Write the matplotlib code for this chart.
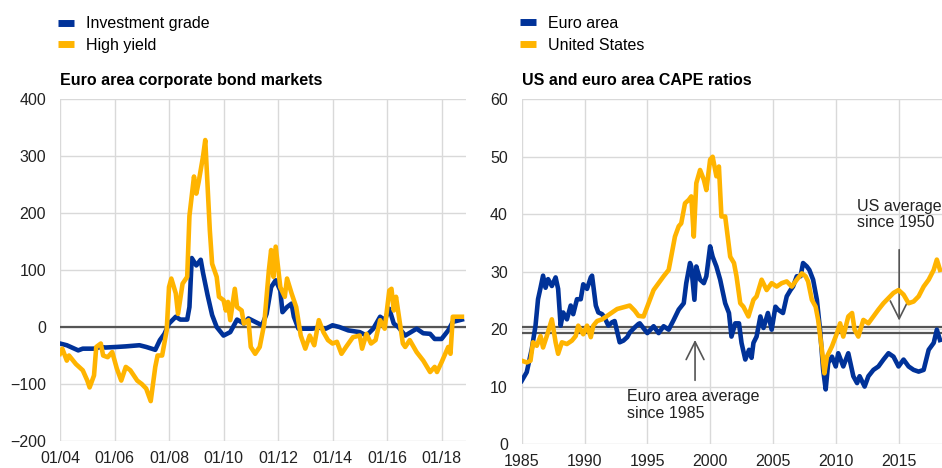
import numpy as np
import pandas as pd
import matplotlib
matplotlib.use("Agg")
import matplotlib.pyplot as plt
import matplotlib.dates as mdates

plt.rcParams['font.family'] = ['Liberation Sans', 'DejaVu Sans']
plt.rcParams['font.size'] = 11.5

# ---- left panel: euro area corporate bond markets ----
ig_dates = ['2004-01', '2004-04', '2004-09', '2004-11', '2005-04', '2005-07', '2005-09', '2006-02',
            '2006-06', '2006-12', '2007-03', '2007-07', '2007-09', '2007-11', '2008-01', '2008-04',
            '2008-06', '2008-09', '2008-10', '2008-11', '2009-01', '2009-03', '2009-04', '2009-06',
            '2009-08', '2009-10', '2010-01', '2010-04', '2010-07', '2010-10', '2010-12', '2011-03',
            '2011-06', '2011-08', '2011-10', '2011-12', '2012-02', '2012-03', '2012-05', '2012-07',
            '2012-08', '2012-10', '2013-01', '2013-04', '2013-07', '2013-10', '2014-01', '2014-04',
            '2014-08', '2015-01', '2015-04', '2015-07', '2015-10', '2015-12', '2016-02', '2016-04',
            '2016-06', '2016-09', '2017-02', '2017-05', '2017-08', '2017-10', '2018-01', '2018-04',
            '2018-06', '2018-10']
ig_values = [-29, -32, -41, -38, -38, -35, -36, -35,
             -34, -32, -35, -40, -23, -12, 6, 18,
             13, 13, 35, 121, 108, 118, 95, 56,
             21, 0, -15, -9, 13, 6, 15, 9,
             3, 23, 70, 82, 64, 26, 35, 41,
             18, -3, -3, -3, -1, -3, 3, 0,
             -6, -9, -15, -3, 18, 12, 32, 6,
             0, -15, -3, -11, -12, -21, -21, -6,
             9, 13]

hy_dates = ['2004-01', '2004-02', '2004-04', '2004-05', '2004-08', '2004-11', '2005-01', '2005-02',
            '2005-04', '2005-05', '2005-07', '2005-08', '2005-10', '2005-12', '2006-02', '2006-04',
            '2006-06', '2006-08', '2006-11', '2007-01', '2007-03', '2007-05', '2007-07', '2007-08',
            '2007-10', '2007-12', '2008-01', '2008-02', '2008-04', '2008-05', '2008-07', '2008-09',
            '2008-10', '2008-12', '2009-01', '2009-02', '2009-04', '2009-05', '2009-07', '2009-08',
            '2009-10', '2009-11', '2010-01', '2010-02', '2010-03', '2010-04', '2010-06', '2010-07',
            '2010-09', '2010-10', '2010-12', '2011-01', '2011-03', '2011-05', '2011-07', '2011-09',
            '2011-10', '2011-11', '2011-12', '2012-02', '2012-04', '2012-05', '2012-07', '2012-09',
            '2012-11', '2013-01', '2013-03', '2013-05', '2013-07', '2013-09', '2013-11', '2014-01',
            '2014-03', '2014-05', '2014-07', '2014-10', '2015-01', '2015-02', '2015-04', '2015-06',
            '2015-08', '2015-10', '2015-12', '2016-02', '2016-03', '2016-04', '2016-05', '2016-08',
            '2016-09', '2016-11', '2017-02', '2017-05', '2017-08', '2017-10', '2017-11', '2018-01',
            '2018-04', '2018-05', '2018-06', '2018-09', '2018-10']
hy_values = [-47, -38, -59, -50, -65, -76, -94, -106,
             -85, -35, -29, -50, -53, -44, -73, -94,
             -70, -76, -94, -100, -108, -130, -70, -50,
             -50, -6, 70, 85, 59, 23, 76, 88,
             195, 264, 234, 254, 299, 328, 170, 111,
             88, 53, 47, 29, 44, 12, 67, 35,
             29, 6, 12, -35, -47, -35, 6, 100,
             135, 88, 141, 70, 53, 85, 59, 35,
             -15, -38, -15, -32, 12, -9, -23, -29,
             -26, -47, -35, -18, -15, -38, -12, -29,
             -23, 12, -3, 64, 67, 29, 53, -29,
             -35, -23, -44, -59, -79, -70, -79, -62,
             -35, -47, 18, 18, 18]

# ---- right panel: CAPE ratios ----
ea_years = [1985.0, 1985.4, 1985.8, 1986.1, 1986.3, 1986.5, 1986.7, 1986.9, 1987.1, 1987.4,
            1987.7, 1987.9, 1988.1, 1988.3, 1988.6, 1988.9, 1989.1, 1989.4, 1989.7, 1989.9,
            1990.2, 1990.5, 1990.6, 1990.9, 1991.1, 1991.4, 1991.6, 1991.9, 1992.2, 1992.4,
            1992.8, 1993.1, 1993.4, 1993.6, 1994.0, 1994.3, 1994.4, 1995.0, 1995.5, 1995.9,
            1996.3, 1996.7, 1997.1, 1997.5, 1997.9, 1998.1, 1998.4, 1998.5, 1998.75, 1998.9,
            1999.2, 1999.5, 1999.7, 2000.0, 2000.2, 2000.5, 2000.8, 2001.2, 2001.5, 2001.7,
            2002.0, 2002.3, 2002.5, 2002.8, 2003.1, 2003.3, 2003.45, 2003.7, 2004.0, 2004.25,
            2004.6, 2004.9, 2005.2, 2005.4, 2005.8, 2006.1, 2006.4, 2006.6, 2006.9, 2007.2,
            2007.4, 2007.7, 2007.9, 2008.2, 2008.5, 2008.75, 2009.0, 2009.2, 2009.4, 2009.7,
            2010.0, 2010.2, 2010.6, 2011.0, 2011.4, 2011.7, 2011.9, 2012.3, 2012.6, 2013.0,
            2013.4, 2013.8, 2014.2, 2014.6, 2015.0, 2015.4, 2015.8, 2016.2, 2016.6, 2017.0,
            2017.4, 2017.8, 2018.05, 2018.3]
ea_values = [11.0, 12.5, 16.5, 20.6, 25.2, 27.2, 29.3, 27.2, 28.7, 27.5,
             29.0, 27.0, 20.6, 22.9, 21.7, 24.1, 22.6, 25.2, 25.2, 27.8,
             27.0, 29.0, 29.3, 24.1, 22.9, 22.6, 22.0, 20.6, 21.2, 21.4,
             17.7, 18.0, 18.6, 19.4, 20.3, 20.9, 21.0, 19.3, 20.5, 19.3,
             20.5, 19.9, 21.6, 23.4, 24.5, 28.0, 31.5, 30.9, 25.1, 30.9,
             28.6, 28.0, 29.2, 34.4, 32.6, 30.9, 28.6, 24.5, 22.8, 18.7,
             21.0, 21.0, 17.6, 14.7, 16.4, 15.0, 17.6, 18.7, 22.2, 20.2,
             22.8, 19.9, 23.9, 23.4, 22.8, 25.7, 26.8, 27.4, 29.2, 29.2,
             31.5, 30.9, 30.3, 28.6, 25.1, 19.9, 12.9, 9.5, 14.1, 15.2,
             13.5, 15.8, 13.5, 15.8, 11.8, 10.6, 11.8, 10.0, 11.8, 12.9,
             13.5, 14.7, 15.8, 15.2, 13.5, 14.7, 13.5, 12.9, 12.6, 12.9,
             16.4, 17.6, 19.9, 18.1]

us_years = [1985.0, 1985.4, 1985.7, 1985.9, 1986.2, 1986.5, 1986.7, 1987.0, 1987.4, 1987.7,
            1987.9, 1988.2, 1988.6, 1989.0, 1989.3, 1989.5, 1989.9, 1990.2, 1990.5, 1990.7,
            1991.0, 1991.4, 1991.8, 1992.2, 1992.6, 1993.1, 1993.6, 1994.0, 1994.3, 1994.7,
            1995.1, 1995.5, 1995.9, 1996.3, 1996.7, 1996.9, 1997.2, 1997.5, 1997.7, 1998.0,
            1998.3, 1998.5, 1998.7, 1998.9, 1999.2, 1999.5, 1999.7, 2000.0, 2000.2, 2000.5,
            2000.7, 2000.9, 2001.2, 2001.4, 2001.6, 2001.9, 2002.1, 2002.4, 2002.65, 2003.05,
            2003.45, 2003.7, 2004.1, 2004.5, 2004.9, 2005.3, 2005.7, 2006.1, 2006.5, 2006.9,
            2007.3, 2007.6, 2007.8, 2008.1, 2008.4, 2008.6, 2008.9, 2009.1, 2009.3, 2009.7,
            2010.1, 2010.35, 2010.6, 2011.0, 2011.3, 2011.5, 2011.8, 2012.2, 2012.6, 2013.0,
            2013.4, 2013.8, 2014.2, 2014.6, 2015.0, 2015.4, 2015.8, 2016.2, 2016.6, 2017.0,
            2017.4, 2017.8, 2018.05, 2018.3]
us_values = [14.5, 14.2, 14.5, 17.7, 17.1, 18.8, 16.8, 18.8, 21.7, 17.7,
             15.7, 17.7, 17.4, 18.0, 18.8, 20.6, 19.1, 20.6, 18.6, 20.6,
             21.4, 21.7, 22.3, 22.9, 23.5, 23.8, 24.1, 23.2, 22.3, 22.2,
             24.5, 26.8, 28.0, 29.2, 30.3, 32.6, 36.1, 37.9, 38.4, 41.9,
             42.5, 43.1, 36.1, 45.4, 47.7, 46.0, 44.2, 49.5, 50.0, 46.6,
             48.3, 39.6, 39.6, 36.1, 32.6, 31.5, 29.2, 24.5, 23.9, 22.2,
             25.1, 25.7, 28.6, 26.8, 28.0, 27.4, 28.0, 28.3, 27.4, 28.6,
             29.7, 29.2, 28.3, 25.1, 23.9, 21.6, 16.4, 12.3, 15.2, 17.0,
             19.3, 21.0, 18.7, 22.2, 22.8, 19.9, 18.7, 21.6, 21.0, 22.2,
             23.4, 24.5, 25.4, 26.3, 26.8, 26.0, 24.5, 24.8, 25.7, 27.4,
             28.6, 30.3, 32.1, 30.3]

us_average = 20.3
ea_average = 19.4

blue = '#003299'
yellow = '#ffb400'
grid_col = '#d9d9d9'
dark = '#555555'

fig = plt.figure(figsize=(9.42, 4.68), dpi=100)
ax1 = fig.add_axes([60 / 942, 1 - 441 / 468, 406 / 942, 342 / 468])
ax2 = fig.add_axes([521.7 / 942, 1 - 444 / 468, 420.3 / 942, 344.7 / 468])

# left chart
d_ig = pd.to_datetime(ig_dates)
d_hy = pd.to_datetime(hy_dates)
ax1.axhline(0, color=dark, lw=1.6, zorder=2)
ax1.plot(d_ig, ig_values, color=blue, lw=3.3, label='Investment grade', zorder=3, solid_joinstyle='round')
ax1.plot(d_hy, hy_values, color=yellow, lw=3.3, label='High yield', zorder=4, solid_joinstyle='round')
ax1.set_ylim(-200, 400)
ax1.set_yticks(np.arange(-200, 401, 100))
ax1.set_xlim(pd.Timestamp('2004-01-01'), pd.Timestamp('2018-11-25'))
ax1.set_xticks(pd.to_datetime([f'{y}-01-01' for y in range(2004, 2019, 2)]))
ax1.xaxis.set_major_formatter(mdates.DateFormatter('%m/%y'))
ax1.set_title('Euro area corporate bond markets', loc='left', fontweight='bold', fontsize=11.5, pad=10)

# right chart
ax2.axhline(us_average, color=dark, lw=1.6, zorder=2)
ax2.axhline(ea_average, color=dark, lw=1.6, zorder=2)
ax2.plot(ea_years, ea_values, color=blue, lw=3.3, label='Euro area', zorder=3, solid_joinstyle='round')
ax2.plot(us_years, us_values, color=yellow, lw=3.3, label='United States', zorder=4, solid_joinstyle='round')
ax2.set_ylim(0, 60)
ax2.set_yticks(np.arange(0, 61, 10))
ax2.set_xlim(1985, 2018.46)
ax2.set_xticks(np.arange(1985, 2016, 5))
ax2.set_title('US and euro area CAPE ratios', loc='left', fontweight='bold', fontsize=11.5, pad=10)

ax2.annotate('', xy=(2015.05, 21.0), xytext=(2015.05, 34.3),
             arrowprops=dict(arrowstyle='->', color=dark, lw=1.2, mutation_scale=32))
ax2.text(2011.7, 42.6, 'US average\nsince 1950', ha='left', va='top', fontsize=11.5, color='#222222',
         linespacing=1.1)
ax2.annotate('', xy=(1998.8, 18.6), xytext=(1998.8, 10.6),
             arrowprops=dict(arrowstyle='->', color=dark, lw=1.2, mutation_scale=32))
ax2.text(1993.4, 9.5, 'Euro area average\nsince 1985', ha='left', va='top', fontsize=11.5, color='#222222',
         linespacing=1.1)

for ax in (ax1, ax2):
    ax.grid(True, color=grid_col, lw=1)
    ax.set_axisbelow(True)
    for s in ax.spines.values():
        s.set_visible(False)
    ax.tick_params(length=0, pad=10, labelsize=11.5, colors='#222222')
    ax.tick_params(axis='x', pad=7)
    leg = ax.legend(loc='lower left', bbox_to_anchor=(-0.005, 1.135), frameon=False,
                    handlelength=1.0, handletextpad=0.75, labelspacing=0.42, borderpad=0,
                    borderaxespad=0, fontsize=11.5)
    for h in leg.get_lines():
        h.set_linewidth(5)
        h.set_solid_capstyle('butt')

fig.savefig('out.png', dpi=100)
